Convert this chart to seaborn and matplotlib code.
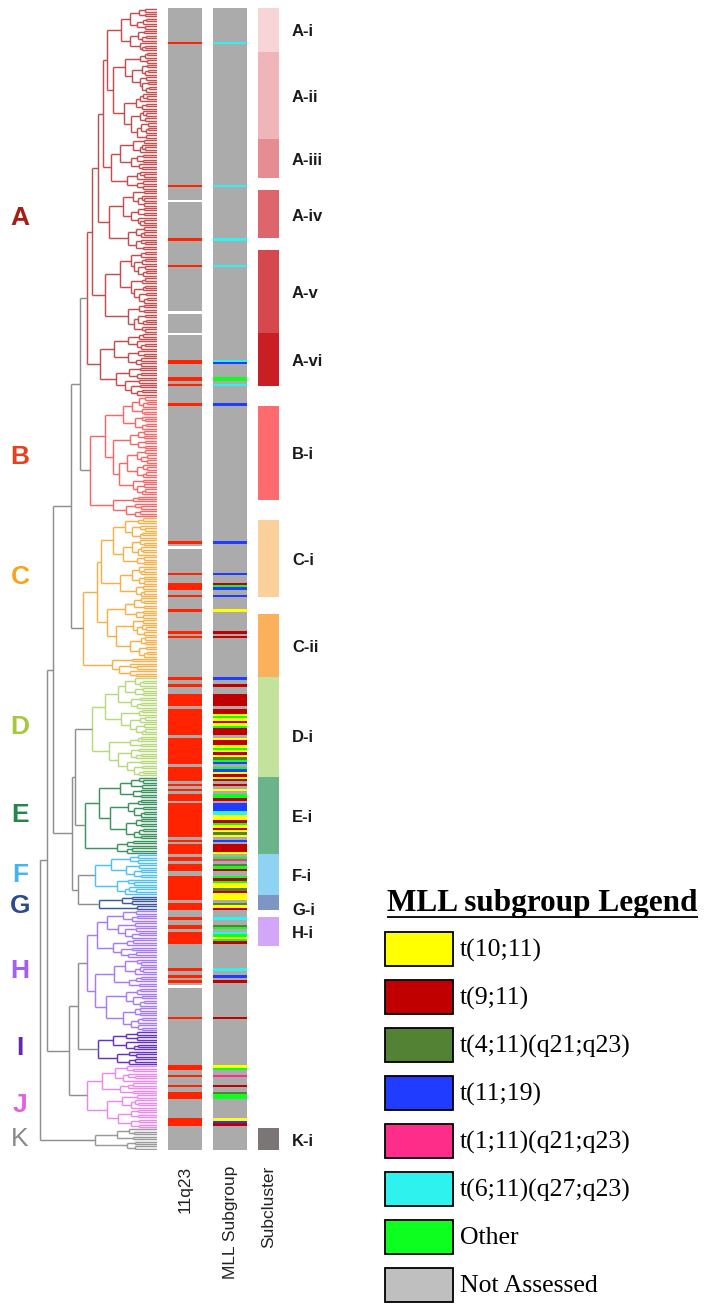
import numpy as np
import pandas as pd
import matplotlib
matplotlib.use("Agg")
import matplotlib.pyplot as plt
import seaborn as sns
from matplotlib.colors import ListedColormap
from matplotlib.collections import LineCollection
from matplotlib.patches import Rectangle

# ------------------------------------------------------------------
# Data
# ------------------------------------------------------------------
clusters = ["A", "B", "C", "D", "E", "F", "G", "H", "I", "J", "K"]
cluster_sizes = [160, 50, 66, 41, 32, 17, 6, 50, 14, 26, 9]

# MLL calls per sample inside each cluster, in dendrogram order.
# Y t(10;11), R t(9;11), G t(4;11), B t(11;19), P t(1;11), C t(6;11), O other,
# "." 11q23 negative / not assessed, "-" 11q23 status missing.
mll_calls = {
    "A": {14: "C", 73: "C", 79: "-", 95: "C", 106: "C", 125: "-", 134: "-",
          145: "C", 146: "B", 152: "O", 153: "O", 155: "C"},
    "B": {3: "B"},
    "C": {10: "B", 12: "-", 23: "B", 27: "R", 28: "O", 29: "B", 32: "B",
          38: "Y", 47: "R", 49: "R"},
    "D": "B..R...RRRRR.RRYOYRYORRR.YRRYOYRYGOB.OBYR",
    "E": "YR.R.Y.OOR.BBBCCYYROYRYGY.B.RRRY",
    "F": ".OP.GOR..OROYYGRY",
    "G": "YY.GYR",
    "H": {3: "C", 6: "G", 7: "O", 9: "C", 10: "O", 11: "Y", 12: "O", 13: "R",
          24: "C", 27: "B", 29: "R", 31: "-", 44: "R"},
    "I": {},
    "J": {0: "Y", 1: "O", 4: "P", 8: "R", 11: "G", 12: "O", 13: "O",
          22: "Y", 23: "B", 24: "R"},
    "K": {},
}

subgroup_codes = ["Y", "R", "G", "B", "P", "C", "O"]
legend_labels = ["t(10;11)", "t(9;11)", "t(4;11)(q21;q23)", "t(11;19)",
                 "t(1;11)(q21;q23)", "t(6;11)(q27;q23)", "Other", "Not Assessed"]

subclusters = ["A-i", "A-ii", "A-iii", "A-iv", "A-v", "A-vi", "B-i", "C-i", "C-ii",
               "D-i", "E-i", "F-i", "G-i", "H-i", "K-i"]
subcluster_start = [0, 18, 54, 75, 100, 134, 164, 211, 250, 276, 317, 349, 366, 375, 462]
subcluster_size = [18, 36, 16, 20, 34, 22, 39, 32, 26, 41, 32, 17, 6, 12, 9]


# Linkage structure: internal nodes carry a merge height, terminal groups a
# sample count and the height at which that group joins.
def node(h, a, b):
    return ("node", h, a, b)


def group(n, h):
    return ("group", n, h)


cluster_trees = {
    "A": node(70, node(65, node(59, node(54, node(50, group(18, 36), group(36, 44)),
                                         group(21, 46)),
                                group(25, 48)),
                       group(34, 52)),
              group(26, 57)),
    "B": node(67, group(41, 52), group(9, 44)),
    "C": node(74, node(60, group(33, 56), group(25, 50)), group(8, 45)),
    "D": node(65, group(24, 52), group(17, 48)),
    "E": node(72, group(26, 58), group(6, 40)),
    "F": node(62, group(10, 46), group(7, 40)),
    "G": node(58, group(4, 35), group(2, 20)),
    "H": node(70, node(60, group(12, 50), group(8, 44)), group(30, 62)),
    "I": node(59, group(8, 44), group(6, 40)),
    "J": node(70, group(12, 55), group(14, 50)),
    "K": node(62, group(5, 40), group(4, 30)),
}
top_tree = node(117, node(110, node(104, node(86, node(77, "A", "B"), "C"),
                                    node(85, node(82, "D", "E"), node(79, "F", "G"))),
                          node(88, node(79, "H", "I"), "J")),
                "K")

# branching inside terminal groups
split_pattern = [0.5, 0.4, 0.6, 0.45, 0.35, 0.55, 0.65, 0.48, 0.3, 0.52]
shrink_pattern = [1.0, 0.93, 0.87, 0.97, 0.9, 0.84, 0.95]

# ------------------------------------------------------------------
# Styling
# ------------------------------------------------------------------
line_colors = {"A": "#c24f4f", "B": "#f06a6a", "C": "#f6b04a", "D": "#b8d87c",
               "E": "#3c9360", "F": "#50c0f0", "G": "#3a5a9c", "H": "#a87bf2",
               "I": "#6533c0", "J": "#ea8ae9", "K": "#9a9a9a"}
letter_colors = {"A": "#a51e16", "B": "#ec3d1c", "C": "#f5a41c", "D": "#a5c83f",
                 "E": "#23864a", "F": "#45b5ea", "G": "#2c4a8c", "H": "#a35ef2",
                 "I": "#6527b5", "J": "#e35fe3", "K": "#8a8a8a"}
top_link_color = "#8f8f8f"
sub_colors = ["#f7d4d7", "#efb5b9", "#e68d93", "#dc666c", "#d4484e", "#c81e24",
              "#fd6b6e", "#fcd09a", "#fbb05b", "#c3e29b", "#6bb38b", "#8fd3f3",
              "#7e96c4", "#d3a7f7", "#7c7576"]
subgroup_colors = ["#ffff00", "#c00000", "#548235", "#1f3cff", "#ff2d8a",
                   "#2ef2ee", "#0dff1f"]
legend_gray = "#bfbfbf"
track_gray = "#ababab"
q23_red = "#ff2300"

sns.set_theme(style="white")
plt.rcParams["font.family"] = ["Liberation Sans", "DejaVu Sans"]

W, H = 705, 1304
fig = plt.figure(figsize=(W / 100, H / 100), dpi=100)
fig.patch.set_facecolor("white")

top_px, bot_px = 8, 1150


def rect(x0, x1, y0=top_px, y1=bot_px):
    return [x0 / W, 1 - y1 / H, (x1 - x0) / W, (y1 - y0) / H]


# ------------------------------------------------------------------
# Track values
# ------------------------------------------------------------------
N = sum(cluster_sizes)
q23 = np.zeros(N)
mll = np.full(N, float(len(subgroup_codes)))
offset = 0
offsets = {}
for c, n in zip(clusters, cluster_sizes):
    offsets[c] = offset
    calls = mll_calls[c]
    items = enumerate(calls) if isinstance(calls, str) else calls.items()
    for i, code in items:
        if code == "-":
            q23[offset + i] = np.nan
        elif code in subgroup_codes:
            q23[offset + i] = 1
            mll[offset + i] = subgroup_codes.index(code)
    offset += n

sub = np.full(N, np.nan)
for j, (s, n) in enumerate(zip(subcluster_start, subcluster_size)):
    sub[s:s + n] = j

# ------------------------------------------------------------------
# Dendrogram
# ------------------------------------------------------------------
segs, seg_cols = [], []
leaf_pos = [0]
branch_counter = [0]


def add_link(y1, h1, y2, h2, h, color):
    segs.extend([[(h1, y1), (h, y1)], [(h, y1), (h, y2)], [(h, y2), (h2, y2)]])
    seg_cols.extend([color] * 3)


def expand(n, h, color):
    if n == 1:
        y = leaf_pos[0] + 0.5
        leaf_pos[0] += 1
        return y, 0.0
    i = branch_counter[0]
    branch_counter[0] += 1
    k = int(round(n * split_pattern[i % len(split_pattern)]))
    k = min(max(k, 1), n - 1)
    s = shrink_pattern[i % len(shrink_pattern)]
    y1, h1 = expand(k, h * (k / n) ** 0.4 * s, color)
    y2, h2 = expand(n - k, h * ((n - k) / n) ** 0.4 * s, color)
    add_link(y1, h1, y2, h2, h, color)
    return (y1 + y2) / 2, h


def layout(t, color):
    if isinstance(t, str):
        return layout(cluster_trees[t], line_colors[t])
    if t[0] == "group":
        return expand(t[1], t[2], color)
    _, h, a, b = t
    y1, h1 = layout(a, color)
    y2, h2 = layout(b, color)
    add_link(y1, h1, y2, h2, h, color)
    return (y1 + y2) / 2, h


layout(top_tree, top_link_color)

ax_d = fig.add_axes(rect(36, 157))
ax_d.add_collection(LineCollection(segs, colors=seg_cols, linewidths=1.05,
                                   capstyle="butt"))
ax_d.set_xlim(121, 0)
ax_d.set_ylim(N, 0)
ax_d.axis("off")

# ------------------------------------------------------------------
# Annotation tracks
# ------------------------------------------------------------------
ax_q = fig.add_axes(rect(168, 202))
sns.heatmap(pd.DataFrame({"11q23": q23}), ax=ax_q,
            cmap=ListedColormap([track_gray, q23_red]), vmin=-0.5, vmax=1.5,
            cbar=False, xticklabels=False, yticklabels=False)

ax_m = fig.add_axes(rect(213, 247))
sns.heatmap(pd.DataFrame({"MLL Subgroup": mll}), ax=ax_m,
            cmap=ListedColormap(subgroup_colors + [track_gray]),
            vmin=-0.5, vmax=len(subgroup_codes) + 0.5,
            cbar=False, xticklabels=False, yticklabels=False)

ax_s = fig.add_axes(rect(258, 279))
sns.heatmap(pd.DataFrame({"Subcluster": sub}), ax=ax_s,
            cmap=ListedColormap(sub_colors), vmin=-0.5, vmax=len(sub_colors) - 0.5,
            cbar=False, xticklabels=False, yticklabels=False)

for ax in (ax_q, ax_m, ax_s):
    ax.set_xlabel("")
    ax.set_ylabel("")

# ------------------------------------------------------------------
# Text layer in pixel coordinates
# ------------------------------------------------------------------
ax_o = fig.add_axes([0, 0, 1, 1], zorder=-1)
ax_o.set_xlim(0, W)
ax_o.set_ylim(H, 0)
ax_o.axis("off")
ax_o.patch.set_alpha(0)

step = (bot_px - top_px) / N


def leaf_px(i):
    return top_px + i * step


letter_nudge = {"A": 16, "C": -20, "J": 8, "G": 3}
for c, n in zip(clusters, cluster_sizes):
    yc = leaf_px(offsets[c] + n / 2) + letter_nudge.get(c, 0)
    ax_o.text(20, yc, c, color=letter_colors[c], fontsize=19,
              fontweight="normal" if c == "K" else "bold",
              ha="center", va="center")

sub_nudge = {"D-i": 9, "G-i": 6}
for name, s, n in zip(subclusters, subcluster_start, subcluster_size):
    yc = leaf_px(s + n / 2) + 2 + sub_nudge.get(name, 0)
    ax_o.text(292, yc, name, fontsize=12, fontweight="bold", color="#1a1a1a",
              ha="left", va="center")

for xc, lab in [(185, "11q23"), (230, "MLL Subgroup"), (268.5, "Subcluster")]:
    ax_o.text(xc, 1166, lab, rotation=90, fontsize=12.5, color="#222222",
              ha="center", va="top")

# Legend
serif = ["Liberation Serif", "DejaVu Serif"]
title = ax_o.text(387, 911, "MLL subgroup Legend", family=serif, fontsize=22.5,
                  fontweight="bold", color="black", ha="left", va="baseline")
fig.canvas.draw()
bb = title.get_window_extent()
ax_o.plot([bb.x0, bb.x1], [917, 917], color="black", lw=1.3,
          solid_capstyle="butt")

box_top0, box_step, box_h, box_w, box_x = 932, 48.05, 34, 68, 385
for i, (lab, col) in enumerate(zip(legend_labels, subgroup_colors + [legend_gray])):
    y0 = box_top0 + i * box_step
    ax_o.add_patch(Rectangle((box_x, y0), box_w, box_h, facecolor=col,
                             edgecolor="black", lw=1.3))
    ax_o.text(460, y0 + box_h / 2 + 1, lab, family=serif, fontsize=18.5,
              color="black", ha="left", va="center")

fig.savefig("out.png", dpi=100, facecolor="white")
